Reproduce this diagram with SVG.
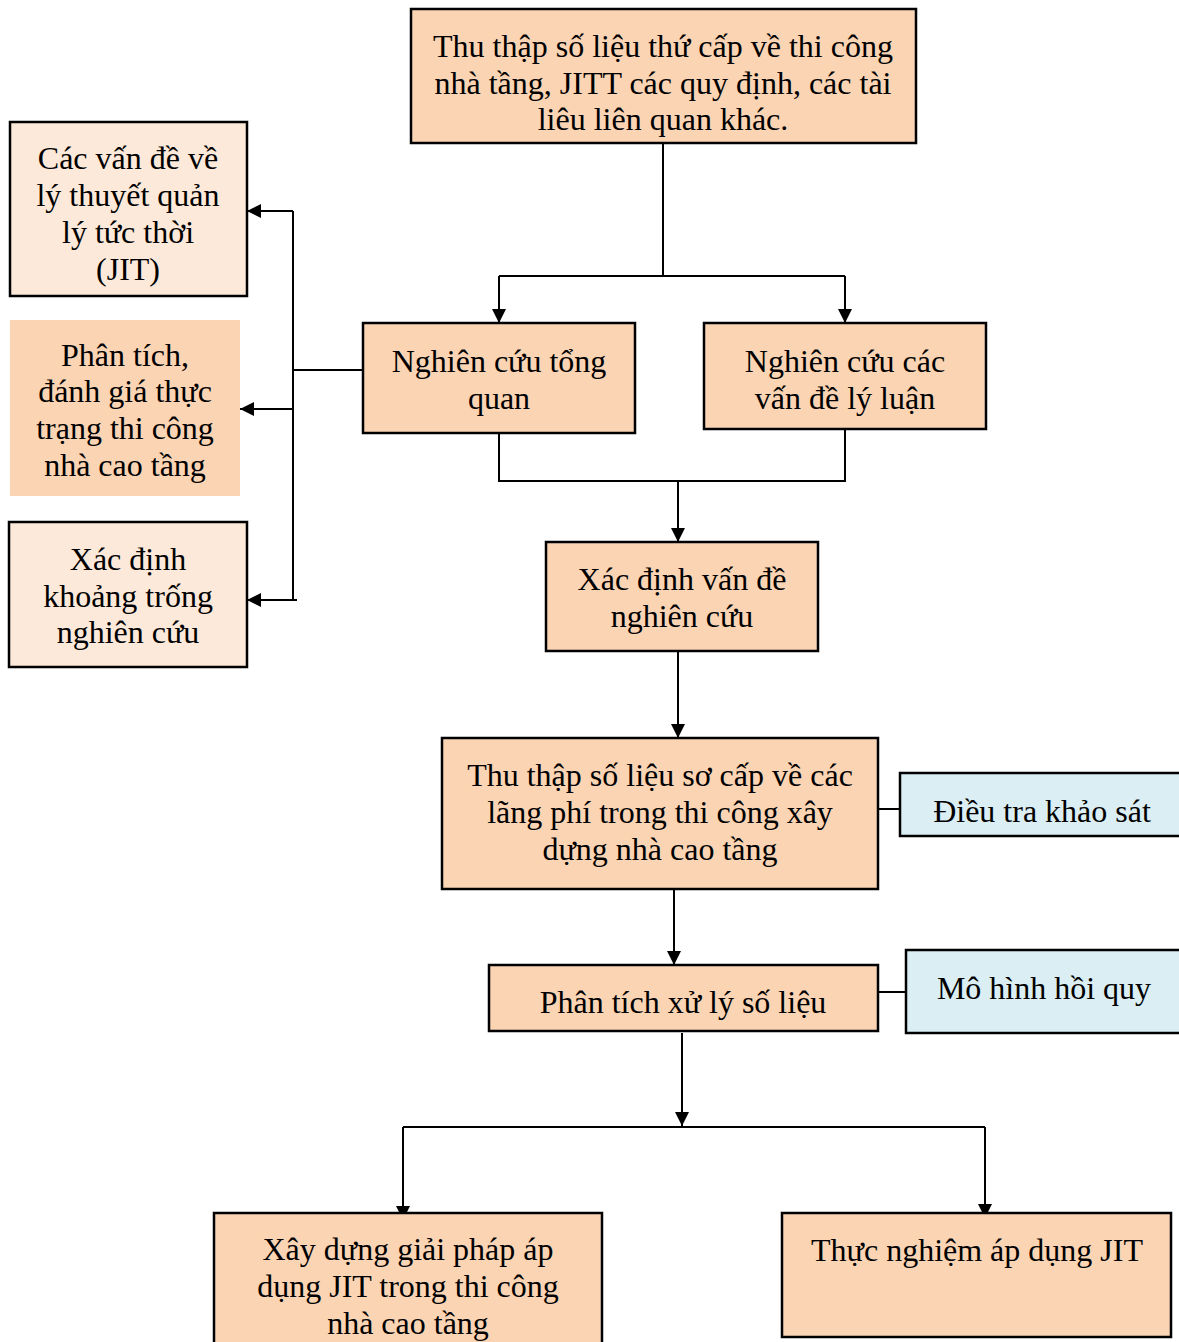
<svg xmlns="http://www.w3.org/2000/svg" width="1179" height="1342" viewBox="0 0 1179 1342">
  <defs>
    <marker id="arrow" viewBox="0 0 14 14" refX="14" refY="7" markerWidth="14" markerHeight="14" markerUnits="userSpaceOnUse" orient="auto">
      <path d="M0,0 L14,7 L0,14 Z" fill="#000"/>
    </marker>
  </defs>
  <style>
    .box { fill: #FBD4B4; stroke: #000; stroke-width: 2.5; }
    .light { fill: #FDE9D9; stroke: #000; stroke-width: 2.5; }
    .plain { fill: #FBD4B4; stroke: none; }
    .blue { fill: #DAEEF3; stroke: #000; stroke-width: 2.5; }
    .lbl { font-family: "Liberation Serif", "Times New Roman", serif; font-size: 32px; fill: #000; text-anchor: middle; }
    .cn { fill: none; stroke: #000; stroke-width: 2; }
    .ar { fill: none; stroke: #000; stroke-width: 2; marker-end: url(#arrow); }
  </style>
  <rect width="1179" height="1342" fill="#fff"/>

  <!-- connectors -->
  <g id="connectors">
    <path class="cn" d="M663,143 V276 M499,276 H845"/>
    <path class="ar" d="M499,276 V323"/>
    <path class="ar" d="M845,276 V323"/>
    <path class="cn" d="M499,433 V481 H845 V429"/>
    <path class="ar" d="M678,481 V542"/>
    <path class="ar" d="M678,651 V738"/>
    <path class="cn" d="M878,809 H900"/>
    <path class="ar" d="M674,889 V965"/>
    <path class="cn" d="M878,992 H906"/>
    <path class="ar" d="M682,1033 V1126"/>
    <path class="cn" d="M403,1127 H985"/>
    <path class="ar" d="M403,1127 V1220"/>
    <path class="ar" d="M985,1127 V1218"/>
    <path class="cn" d="M363,370 H293 M293,211 V600 H297"/>
    <path class="ar" d="M293,211 H247"/>
    <path class="ar" d="M293,409 H240"/>
    <path class="ar" d="M293,600 H247"/>
  </g>

  <g id="n-secondary-data">
    <rect class="box" x="411" y="9" width="505" height="134"/>
    <text class="lbl" x="663" y="57">Thu thập số liệu thứ cấp về thi công</text>
    <text class="lbl" x="663" y="94">nhà tầng, JITT các quy định, các tài</text>
    <text class="lbl" x="663" y="130">liêu liên quan khác.</text>
  </g>

  <g id="n-jit-theory">
    <rect class="light" x="10" y="122" width="237" height="174"/>
    <text class="lbl" x="128" y="169">Các vấn đề về</text>
    <text class="lbl" x="128" y="206">lý thuyết quản</text>
    <text class="lbl" x="128" y="243">lý tức thời</text>
    <text class="lbl" x="128" y="280">(JIT)</text>
  </g>

  <g id="n-current-state">
    <rect class="plain" x="10" y="320" width="230" height="176"/>
    <text class="lbl" x="125" y="366">Phân tích,</text>
    <text class="lbl" x="125" y="402">đánh giá thực</text>
    <text class="lbl" x="125" y="439">trạng thi công</text>
    <text class="lbl" x="125" y="476">nhà cao tầng</text>
  </g>

  <g id="n-research-gap">
    <rect class="light" x="9" y="522" width="238" height="145"/>
    <text class="lbl" x="128" y="570">Xác định</text>
    <text class="lbl" x="128" y="607">khoảng trống</text>
    <text class="lbl" x="128" y="643">nghiên cứu</text>
  </g>

  <g id="n-overview">
    <rect class="box" x="363" y="323" width="272" height="110"/>
    <text class="lbl" x="499" y="372">Nghiên cứu tổng</text>
    <text class="lbl" x="499" y="409">quan</text>
  </g>

  <g id="n-theory">
    <rect class="box" x="704" y="323" width="282" height="106"/>
    <text class="lbl" x="845" y="372">Nghiên cứu các</text>
    <text class="lbl" x="845" y="409">vấn đề lý luận</text>
  </g>

  <g id="n-problem">
    <rect class="box" x="546" y="542" width="272" height="109"/>
    <text class="lbl" x="682" y="590">Xác định vấn đề</text>
    <text class="lbl" x="682" y="627">nghiên cứu</text>
  </g>

  <g id="n-primary-data">
    <rect class="box" x="442" y="738" width="436" height="151"/>
    <text class="lbl" x="660" y="786">Thu thập số liệu sơ cấp về các</text>
    <text class="lbl" x="660" y="823">lãng phí trong thi công xây</text>
    <text class="lbl" x="660" y="860">dựng nhà cao tầng</text>
  </g>

  <g id="n-survey">
    <rect class="blue" x="900" y="773" width="290" height="63"/>
    <text class="lbl" x="1042" y="822">Điều tra khảo sát</text>
  </g>

  <g id="n-analysis">
    <rect class="box" x="489" y="965" width="389" height="66"/>
    <text class="lbl" x="683" y="1013">Phân tích xử lý số liệu</text>
  </g>

  <g id="n-regression">
    <rect class="blue" x="906" y="950" width="284" height="83"/>
    <text class="lbl" x="1044" y="999">Mô hình hồi quy</text>
  </g>

  <g id="n-solution">
    <rect class="box" x="214" y="1213" width="388" height="140"/>
    <text class="lbl" x="408" y="1260">Xây dựng giải pháp áp</text>
    <text class="lbl" x="408" y="1297">dụng JIT trong thi công</text>
    <text class="lbl" x="408" y="1334">nhà cao tầng</text>
  </g>

  <g id="n-experiment">
    <rect class="box" x="782" y="1213" width="389" height="124"/>
    <text class="lbl" x="977" y="1261">Thực nghiệm áp dụng JIT</text>
  </g>
</svg>
